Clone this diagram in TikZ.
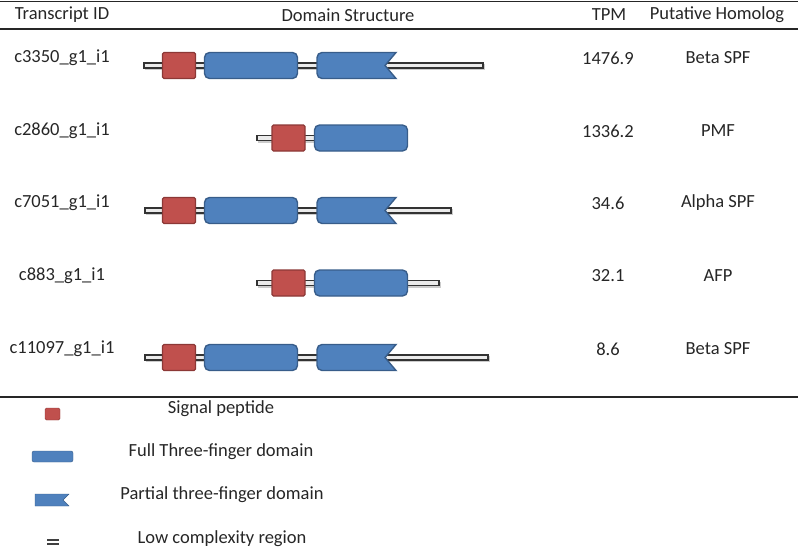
\documentclass[tikz,border=0pt]{standalone}
\usepackage{fontspec}
\setmainfont{Carlito}
\usetikzlibrary{positioning}
\definecolor{sigred}{HTML}{C0504D}
\definecolor{sigedge}{HTML}{8C3836}
\definecolor{domblue}{HTML}{4F81BD}
\definecolor{domedge}{HTML}{385D8A}
\tikzset{
    celltext/.style = {font=\fontsize{18.5}{22}\selectfont, text=black!85, inner sep=0pt},
    sig_p/.style = {rectangle, draw=sigedge, fill=sigred, line width=1.4pt, rounded corners=1.5pt,
        minimum width=33pt, minimum height=26pt, inner sep=0pt},% signal peptide
    dom_f/.style = {rectangle, draw=domedge, fill=domblue, line width=1.4pt, rounded corners=5pt,
        minimum width=93pt, minimum height=26pt, inner sep=0pt},% full three-finger domain
    dom_p/.style = {draw=domedge, fill=domblue, line width=1.4pt, rounded corners=5pt},% partial domain
    lowc/.style = {draw=black!80, fill=white!92!black, line width=1.2pt},% low complexity region
}
% partial three-finger domain: left x, centre y, width, height
\newcommand{\partdom}[4]{
    \path[dom_p] (#1+#3,#2-#4/2) [sharp corners] -- (#1+#3-11,#2)
        -- (#1+#3,#2+#4/2) [rounded corners=5pt] -- (#1,#2+#4/2)
        -- (#1,#2-#4/2) [sharp corners] -- cycle;
}
% backbone: from x, to x, centre y
\newcommand{\backbone}[3]{
    \fill[black!20] (#1+1,#3-1.5) rectangle (#2+1.5,#3+4.5);
    \draw[lowc] (#1,#3-2.5) rectangle (#2,#3+2.5);
}

\begin{document}
\begin{tikzpicture}[x=1pt,y=-1pt]
\useasboundingbox (0,0) rectangle (798,549);
% table rules
\draw[line width=1.2pt, black!85] (0,1.5) -- (798,1.5);
\draw[line width=1.2pt, black!85] (0,29) -- (798,29);
\draw[line width=1.2pt, black!85] (0,397) -- (798,397);
% header
\node[celltext] (hid)  at (62,15)  {Transcript ID};
\node[celltext] (hdom) at (348,15) {Domain Structure};
\node[celltext] (htpm) at (609,15) {TPM};
\node[celltext] (hhom) at (717,15) {Putative Homolog};
% rows
\foreach \id/\tpm/\hom/\ty in {c3350\_g1\_i1/1476.9/Beta SPF/58,
        c2860\_g1\_i1/1336.2/PMF/131,
        c7051\_g1\_i1/34.6/Alpha SPF/203,
        c883\_g1\_i1/32.1/AFP/276,
        c11097\_g1\_i1/8.6/Beta SPF/349}{
    \node[celltext] at (62,\ty) {\id};
    \node[celltext] at (608,\ty) {\tpm};
    \node[celltext] at (718,\ty) {\hom};
}
% c3350_g1_i1
\backbone{144}{483}{65.5}
\node[sig_p] (s1) at (179,65.5) {};
\node[dom_f] (f1) at (251,65.5) {};
\partdom{317}{65.5}{79}{26}
% c2860_g1_i1
\backbone{257}{360}{138}
\node[sig_p] (s2) at (288.5,138) {};
\node[dom_f] (f2) at (361,138) {};
% c7051_g1_i1
\backbone{145}{451}{210.5}
\node[sig_p] (s3) at (179,210.5) {};
\node[dom_f] (f3) at (251,210.5) {};
\partdom{317}{210.5}{79}{26}
% c883_g1_i1
\backbone{257}{439}{283}
\node[sig_p] (s4) at (288.5,283) {};
\node[dom_f] (f4) at (361,283) {};
% c11097_g1_i1
\backbone{145}{488}{357.5}
\node[sig_p] (s5) at (179,357.5) {};
\node[dom_f] (f5) at (251,357.5) {};
\partdom{317}{357.5}{79}{26}
% legend
\node[sig_p, minimum width=15pt, minimum height=12pt, thin] (lsig) at (52.5,414) {};
\node[celltext] (tsig) at (221,409) {Signal peptide};
\node[dom_f, minimum width=41pt, minimum height=11pt, thin, rounded corners=2pt] (lfull) at (52.5,456.5) {};
\node[celltext] (tfull) at (221,452) {Full Three-finger domain};
\path[dom_p, thin, rounded corners=0pt] (69,494) -- (63,500) -- (69,506) -- (35,506) -- (35,494) -- cycle;
\node[celltext] (tpart) at (222,495) {Partial three-finger domain};
\draw[black!75, line width=1.2pt] (47,540) -- (59,540);
\draw[black!75, line width=1.2pt] (47,544) -- (59,544);
\node[celltext] (tlow) at (222,539) {Low complexity region};
\end{tikzpicture}
\end{document}
